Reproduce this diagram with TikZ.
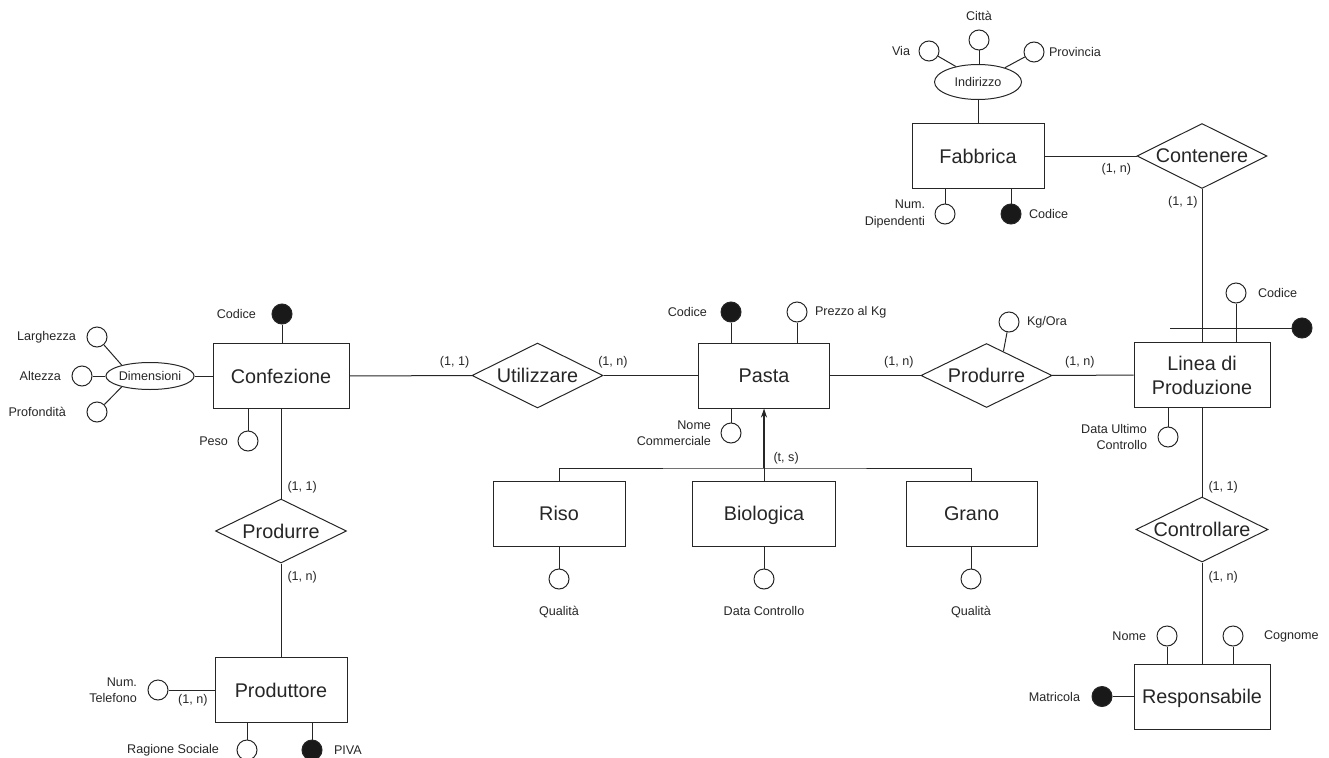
\documentclass[tikz,border=0pt]{standalone}
\usepackage{fontspec}
\setmainfont{Liberation Sans}
\usepackage{tikz}
\usetikzlibrary{shapes.geometric,positioning,arrows.meta}

\begin{document}
\begin{tikzpicture}[x=1pt,y=-1pt,color=black!85,line width=1pt,
    entita/.style={draw,rectangle,minimum width=132pt,minimum height=65pt,inner sep=0pt,align=center,font=\fontsize{19.8}{24}\selectfont},
    relazione/.style={draw,diamond,aspect=2,minimum width=131pt,minimum height=65pt,inner sep=0pt,text depth=0pt,font=\fontsize{19.8}{24}\selectfont},
    attributo/.style={draw,circle,minimum size=20pt,inner sep=0pt},
    chiave/.style={attributo,fill=black!90},
    composto/.style={draw,ellipse,inner sep=0pt,font=\fontsize{12.6}{16}\selectfont},
    etichetta/.style={inner sep=0pt,font=\fontsize{12.6}{16.5}\selectfont},
    card/.style={inner sep=0pt,font=\fontsize{12.6}{16}\selectfont}]
  \useasboundingbox (0,0) rectangle (1329,757);

  \node[entita,minimum width=136pt] (confezione) at (281,376) {Confezione};
  \node[composto,minimum width=86pt,minimum height=27pt] (dimensioni) at (150,376) {Dimensioni};
  \node[chiave] (codc) at (282,314) {};
  \node[attributo] (larghezza) at (97,337) {};
  \node[attributo] (altezza) at (82,376) {};
  \node[attributo] (profondita) at (97,412) {};
  \node[attributo] (peso) at (248,441) {};
  \node[etichetta,left=15pt of codc] (lcodc) {Codice};
  \node[etichetta,left=10pt of larghezza] (llarghezza) {Larghezza};
  \node[etichetta,left=10pt of altezza] (laltezza) {Altezza};
  \node[etichetta,left=20pt of profondita] (lprofondita) {Profondità};
  \node[etichetta,left=9pt of peso] (lpeso) {Peso};

  \node[relazione,minimum height=64pt] (produrrec) at (281,531) {Produrre};
  \node[entita] (produttore) at (281,690) {Produttore};
  \node[attributo] (numtel) at (158,690) {};
  \node[attributo] (ragsoc) at (247,750) {};
  \node[chiave] (piva) at (312,750) {};
  \node[etichetta,align=right,left=10pt of numtel] (lnumtel) {Num.\\Telefono};
  \node[etichetta,left=17pt of ragsoc] (lragsoc) {Ragione Sociale};
  \node[etichetta,right=11pt of piva] (lpiva) {PIVA};

  \node[relazione] (utilizzare) at (537.5,375.5) {Utilizzare};
  \node[entita,minimum width=131pt] (pasta) at (764,375.5) {Pasta};
  \node[chiave] (codp) at (731,312) {};
  \node[attributo] (prezzo) at (797,312) {};
  \node[attributo] (nomec) at (731,433) {};
  \node[etichetta,left=13pt of codp] (lcodp) {Codice};
  \node[etichetta,right=7pt of prezzo] (lprezzo) {Prezzo al Kg};
  \node[etichetta,align=right,left=9pt of nomec] (lnomec) {Nome\\Commerciale};

  \node[entita] (riso) at (559,513.5) {Riso};
  \node[entita,minimum width=143pt,text depth=0pt] (biologica) at (764,513.5) {Biologica};
  \node[entita,minimum width=131pt] (grano) at (971.5,513.5) {Grano};
  \node[attributo] (qriso) at (559,579) {};
  \node[attributo] (dcontr) at (764,579) {};
  \node[attributo] (qgrano) at (971,579) {};
  \node[etichetta,below=16pt of qriso] (lqriso) {Qualità};
  \node[etichetta,below=16pt of dcontr] (ldcontr) {Data Controllo};
  \node[etichetta,below=16pt of qgrano] (lqgrano) {Qualità};
  \coordinate (isa) at (764,468);
  \node[card,above right=3pt and 9pt of isa] (ts) {(t, s)};

  \node[relazione,minimum height=64pt] (produrrep) at (986.5,375.5) {Produrre};
  \node[attributo] (kgora) at (1009,322) {};
  \node[etichetta,right=7pt of kgora] (lkgora) {Kg/Ora};

  \node[entita,minimum width=136pt] (linea) at (1202,375) {Linea di\\Produzione};
  \node[attributo] (codl) at (1236,293) {};
  \node[chiave] (extl) at (1302,328) {};
  \coordinate (extend) at (1170,328);
  \node[attributo] (dataul) at (1168,437) {};
  \node[etichetta,right=11pt of codl] (lcodl) {Codice};
  \node[etichetta,align=right,left=10pt of dataul] (ldataul) {Data Ultimo\\Controllo};

  \node[entita] (fabbrica) at (978,156) {Fabbrica};
  \node[composto,minimum width=87pt,minimum height=35pt] (indirizzo) at (978,82) {Indirizzo};
  \node[attributo] (via) at (929,51) {};
  \node[attributo] (citta) at (979,40) {};
  \node[attributo] (provincia) at (1034,52) {};
  \node[attributo] (numdip) at (945,214) {};
  \node[chiave] (codf) at (1011,214) {};
  \node[etichetta,left=8pt of via] (lvia) {Via};
  \node[etichetta,above=8pt of citta] (lcitta) {Città};
  \node[etichetta,right=4pt of provincia] (lprovincia) {Provincia};
  \node[etichetta,align=right,left=9pt of numdip] (lnumdip) {Num.\\Dipendenti};
  \node[etichetta,right=7pt of codf] (lcodf) {Codice};
  \node[relazione,minimum width=130pt] (contenere) at (1202,156) {Contenere};

  \node[relazione,minimum width=132pt] (controllare) at (1202,529.5) {Controllare};
  \node[entita,minimum width=136pt,text depth=0pt] (responsabile) at (1202,696.5) {Responsabile};
  \node[attributo] (nome) at (1167,636) {};
  \node[attributo] (cognome) at (1233,636) {};
  \node[chiave] (matricola) at (1102,696.5) {};
  \node[etichetta,left=10pt of nome] (lnome) {Nome};
  \node[etichetta,right=20pt of cognome] (lcognome) {Cognome};
  \node[etichetta,left=11pt of matricola] (lmatricola) {Matricola};

  \path
    (confezione) edge node[card,pos=.86,above=7pt] {(1, 1)} (utilizzare)
    (utilizzare) edge node[card,pos=.1,above=7pt] {(1, n)} (pasta)
    (pasta) edge node[card,pos=.76,above=7pt] {(1, n)} (produrrep)
    (produrrep) edge node[card,pos=.34,above=7pt] {(1, n)} (linea)
    (confezione) edge node[card,pos=.87,right=6pt] {(1, 1)} (produrrec)
    (produrrec) edge node[card,pos=.15,right=6pt] {(1, n)} (produttore)
    (fabbrica) edge node[card,pos=.78,below=7pt] {(1, n)} (contenere)
    (contenere) edge node[card,pos=.085,left=4pt] {(1, 1)} (linea)
    (linea) edge node[card,pos=.89,right=6pt] {(1, 1)} (controllare)
    (controllare) edge node[card,pos=.15,right=6pt] {(1, n)} (responsabile)
    (numtel) edge node[card,pos=.53,below=4pt] {(1, n)} (produttore);

  \path
    (codc) edge (codc |- confezione.north)
    (dimensioni) edge (confezione)
    (larghezza) edge (dimensioni.159)
    (altezza) edge (dimensioni)
    (profondita) edge (dimensioni.201)
    (peso) edge (peso |- confezione.south)
    (ragsoc) edge (ragsoc |- produttore.south)
    (piva) edge (piva |- produttore.south)
    (codp) edge (codp |- pasta.north)
    (prezzo) edge (prezzo |- pasta.north)
    (nomec) edge (nomec |- pasta.south)
    (qriso) edge (riso)
    (dcontr) edge (biologica)
    (qgrano) edge (qgrano |- grano.south)
    (kgora) edge (produrrep.55)
    (codl) edge (codl |- linea.north)
    (extend) edge (extl)
    (dataul) edge (dataul |- linea.south)
    (indirizzo) edge (fabbrica)
    (via) edge (indirizzo.145)
    (citta) edge (citta |- indirizzo.north)
    (provincia) edge (indirizzo.28)
    (numdip) edge (numdip |- fabbrica.south)
    (codf) edge (codf |- fabbrica.south)
    (nome) edge (nome |- responsabile.north)
    (cognome) edge (cognome |- responsabile.north)
    (matricola) edge (responsabile);

  \draw (riso) |- (isa) -| (grano);
  \draw (biologica) -- (isa);
  \draw[-{Stealth[length=9pt,width=6pt]},line width=1.8pt] (isa) -- (pasta);
\end{tikzpicture}
\end{document}
